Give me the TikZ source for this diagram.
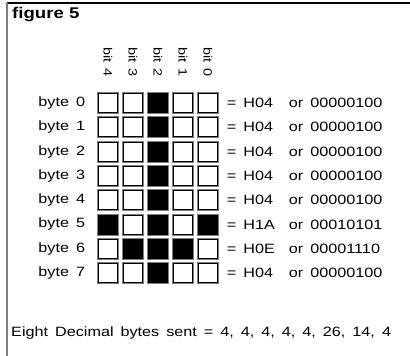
\documentclass[tikz,border=0pt]{standalone}
\usepackage{fontspec}
\setmainfont[FakeStretch=1.2]{Liberation Sans}
\usetikzlibrary{positioning}
\usetikzlibrary{calc}
\definecolor{frame-gray}{HTML}{7F7F7F}
\newcommand{\pixfont}{\fontsize{13.5}{16}\selectfont\spaceskip=7pt\relax}
\tikzset{
  pixoff/.style={draw=black, fill=white, line width=1pt, minimum width=19.5pt,
    minimum height=19pt, inner sep=0pt, outer sep=0pt,
    preaction={draw=frame-gray, line width=3pt}},
  pixon/.style={pixoff, fill=black},
  rowtext/.style={font=\pixfont, inner sep=0pt},
}
\begin{document}
\begin{tikzpicture}[x=1pt, y=-1pt]
\useasboundingbox (0,0) rectangle (410,356);
% frame
\draw[line width=1.5pt] (7,3) -- (410,3);
\draw[frame-gray, line width=2pt] (7,3) -- (7,356);
\node[inner sep=0pt, font=\bfseries\fontsize{15.5}{18}\selectfont, anchor=west] (title) at (12,15) {figure 5};
% bit headers
\foreach \b [count=\c from 0] in {4,3,2,1,0} {
  \node[inner sep=0pt, rotate=-90, font={\fontsize{12}{14}\selectfont\spaceskip=6pt\relax}] (bit-\c) at (108+25*\c, 62) {bit \b};
}
% rows of pixels
\foreach \bits/\hex/\bin [count=\r from 0] in {%
    {0,0,1,0,0}/H04/00000100, {0,0,1,0,0}/H04/00000100,
    {0,0,1,0,0}/H04/00000100, {0,0,1,0,0}/H04/00000100,
    {0,0,1,0,0}/H04/00000100, {1,0,1,0,1}/H1A/00010101,
    {0,1,1,1,0}/H0E/00001110, {0,0,1,0,0}/H04/00000100} {
  \foreach \v [count=\c from 0] in \bits {
    \ifnum\v=1
      \node[pixon] (cell-\r-\c) at (108+25*\c, 103+24.3*\r) {};
    \else
      \node[pixoff] (cell-\r-\c) at (108+25*\c, 103+24.3*\r) {};
    \fi
  }
  \node[rowtext, left=13pt of cell-\r-0] (byte-\r) {byte \r};
  \node[rowtext, right=9pt of cell-\r-4] (val-\r) {\makebox[62pt][l]{= \hex}or \bin};
}
\node[rowtext, anchor=west] (sent) at (11,333) {Eight Decimal bytes sent = 4, 4, 4, 4, 4, 26, 14, 4};
\end{tikzpicture}
\end{document}
